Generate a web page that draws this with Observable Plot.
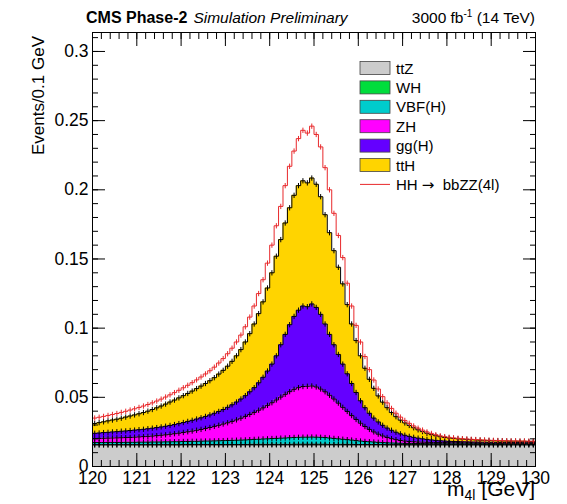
<!DOCTYPE html>
<html>
<head>
<meta charset="utf-8">
<script src="https://cdn.jsdelivr.net/npm/d3@7"></script>
<script src="https://cdn.jsdelivr.net/npm/@observablehq/plot@0.6"></script>
<style>
  html, body { margin: 0; padding: 0; background: white; }
  #chart { width: 567px; height: 504px; }
</style>
</head>
<body>
<div id="chart"></div>
<script>
// ---------- data (events per 0.1 GeV bin, 120.0 .. 130.0 GeV) ----------
const seriesNames = ["ttZ", "WH", "VBF(H)", "ZH", "gg(H)", "ttH"];
const seriesColors = ["#cccccc", "#00dd3c", "#00cccc", "#ff00ff", "#6400ff", "#ffd400"];
const hhName = "HH";
const hhLabel = "HH \u2192  bbZZ(4l)";
const hhColor = "#e8282b";

const ttZ = [
0.0156,0.0156,0.0156,0.0156,0.0156,0.0156,0.0156,0.0156,0.0156,0.0156,
0.0156,0.0156,0.0156,0.0156,0.0156,0.0156,0.0156,0.0156,0.0156,0.0156,
0.0156,0.0156,0.0156,0.0156,0.0156,0.0156,0.0156,0.0156,0.0156,0.0156,
0.0156,0.0156,0.0156,0.0156,0.0156,0.0156,0.0156,0.0156,0.0156,0.0156,
0.0156,0.0156,0.0156,0.0156,0.0156,0.0156,0.0156,0.0156,0.0156,0.0156,
0.0156,0.0156,0.0156,0.0156,0.0156,0.0156,0.0156,0.0156,0.0156,0.0156,
0.0156,0.0156,0.0156,0.0156,0.0156,0.0156,0.0156,0.0156,0.0156,0.0156,
0.0156,0.0156,0.0156,0.0156,0.0156,0.0156,0.0156,0.0156,0.0156,0.0156,
0.0156,0.0156,0.0156,0.0156,0.0156,0.0156,0.0156,0.0156,0.0156,0.0156,
0.0156,0.0156,0.0156,0.0156,0.0156,0.0156,0.0156,0.0156,0.0156,0.0156];
const WH = [
0.0002,0.0002,0.0002,0.0002,0.0002,0.0002,0.0002,0.0002,0.0002,0.0002,
0.0002,0.0002,0.0002,0.0002,0.0002,0.0002,0.0002,0.0002,0.0002,0.0002,
0.0003,0.0003,0.0003,0.0003,0.0003,0.0003,0.0003,0.0003,0.0003,0.0003,
0.0003,0.0003,0.0003,0.0003,0.0003,0.0004,0.0004,0.0004,0.0004,0.0004,
0.0004,0.0004,0.0004,0.0004,0.0004,0.0005,0.0005,0.0005,0.0005,0.0005,
0.0005,0.0005,0.0005,0.0004,0.0004,0.0004,0.0004,0.0004,0.0004,0.0003,
0.0003,0.0003,0.0003,0.0003,0.0003,0.0003,0.0002,0.0002,0.0002,0.0002,
0.0002,0.0002,0.0002,0.0002,0.0002,0.0002,0.0002,0.0002,0.0002,0.0002,
0.0002,0.0002,0.0002,0.0002,0.0002,0.0002,0.0002,0.0002,0.0002,0.0002,
0.0002,0.0002,0.0002,0.0002,0.0002,0.0002,0.0002,0.0002,0.0002,0.0002];
const VBF = [
0.0015,0.0015,0.0015,0.0016,0.0016,0.0016,0.0016,0.0017,0.0017,0.0017,
0.0018,0.0018,0.0018,0.0019,0.0019,0.0019,0.0020,0.0020,0.0021,0.0021,
0.0022,0.0022,0.0023,0.0023,0.0024,0.0025,0.0025,0.0026,0.0027,0.0028,
0.0029,0.0030,0.0031,0.0032,0.0033,0.0034,0.0036,0.0037,0.0039,0.0040,
0.0042,0.0043,0.0045,0.0046,0.0048,0.0049,0.0050,0.0051,0.0051,0.0052,
0.0051,0.0050,0.0048,0.0046,0.0043,0.0040,0.0037,0.0034,0.0031,0.0028,
0.0025,0.0022,0.0020,0.0018,0.0016,0.0014,0.0013,0.0012,0.0011,0.0010,
0.0009,0.0009,0.0008,0.0008,0.0008,0.0007,0.0007,0.0007,0.0007,0.0007,
0.0006,0.0006,0.0006,0.0006,0.0006,0.0006,0.0006,0.0006,0.0006,0.0006,
0.0006,0.0006,0.0006,0.0006,0.0006,0.0006,0.0006,0.0006,0.0006,0.0006];
const ZH = [
0.0029,0.0030,0.0031,0.0031,0.0032,0.0033,0.0034,0.0034,0.0035,0.0037,
0.0038,0.0040,0.0042,0.0043,0.0046,0.0049,0.0051,0.0055,0.0058,0.0062,
0.0065,0.0070,0.0074,0.0080,0.0085,0.0091,0.0098,0.0105,0.0112,0.0120,
0.0128,0.0137,0.0147,0.0158,0.0170,0.0182,0.0195,0.0210,0.0225,0.0242,
0.0259,0.0278,0.0297,0.0316,0.0333,0.0348,0.0359,0.0366,0.0368,0.0369,
0.0363,0.0349,0.0331,0.0309,0.0285,0.0258,0.0231,0.0204,0.0177,0.0153,
0.0129,0.0108,0.0089,0.0073,0.0059,0.0048,0.0039,0.0031,0.0025,0.0020,
0.0017,0.0014,0.0013,0.0011,0.0010,0.0010,0.0009,0.0009,0.0008,0.0008,
0.0008,0.0008,0.0008,0.0007,0.0007,0.0007,0.0006,0.0006,0.0006,0.0006,
0.0005,0.0005,0.0005,0.0005,0.0005,0.0004,0.0004,0.0004,0.0004,0.0004];
const ggH = [
0.0038,0.0039,0.0041,0.0042,0.0044,0.0045,0.0047,0.0048,0.0050,0.0051,
0.0052,0.0053,0.0055,0.0057,0.0058,0.0060,0.0062,0.0064,0.0066,0.0069,
0.0072,0.0075,0.0078,0.0081,0.0084,0.0087,0.0091,0.0095,0.0100,0.0105,
0.0112,0.0120,0.0129,0.0139,0.0150,0.0164,0.0179,0.0198,0.0221,0.0248,
0.0279,0.0319,0.0378,0.0433,0.0484,0.0527,0.0560,0.0582,0.0575,0.0593,
0.0575,0.0540,0.0490,0.0440,0.0392,0.0352,0.0312,0.0272,0.0232,0.0195,
0.0162,0.0136,0.0117,0.0100,0.0088,0.0077,0.0068,0.0061,0.0054,0.0048,
0.0042,0.0037,0.0032,0.0028,0.0024,0.0021,0.0018,0.0015,0.0013,0.0011,
0.0010,0.0009,0.0008,0.0008,0.0007,0.0006,0.0007,0.0006,0.0006,0.0005,
0.0006,0.0005,0.0005,0.0005,0.0004,0.0005,0.0005,0.0004,0.0004,0.0004];
const ttH = [
0.0071,0.0075,0.0078,0.0083,0.0086,0.0090,0.0094,0.0100,0.0105,0.0110,
0.0115,0.0121,0.0127,0.0135,0.0143,0.0151,0.0160,0.0169,0.0177,0.0186,
0.0194,0.0202,0.0211,0.0220,0.0229,0.0238,0.0247,0.0257,0.0270,0.0283,
0.0297,0.0314,0.0334,0.0357,0.0388,0.0420,0.0460,0.0500,0.0545,0.0600,
0.0660,0.0720,0.0760,0.0805,0.0845,0.0875,0.0900,0.0905,0.0895,0.0910,
0.0890,0.0850,0.0790,0.0735,0.0680,0.0630,0.0580,0.0500,0.0430,0.0375,
0.0325,0.0285,0.0245,0.0215,0.0188,0.0167,0.0147,0.0128,0.0112,0.0099,
0.0089,0.0079,0.0069,0.0060,0.0052,0.0044,0.0038,0.0033,0.0029,0.0026,
0.0024,0.0022,0.0020,0.0019,0.0018,0.0017,0.0015,0.0014,0.0013,0.0013,
0.0012,0.0012,0.0011,0.0010,0.0010,0.0010,0.0009,0.0010,0.0009,0.0009];
const HH = [
0.0039,0.0039,0.0039,0.0039,0.0040,0.0041,0.0042,0.0042,0.0043,0.0044,
0.0046,0.0047,0.0048,0.0048,0.0049,0.0050,0.0051,0.0052,0.0054,0.0055,
0.0057,0.0059,0.0061,0.0063,0.0066,0.0069,0.0072,0.0076,0.0080,0.0085,
0.0090,0.0095,0.0100,0.0105,0.0110,0.0120,0.0130,0.0145,0.0160,0.0180,
0.0200,0.0220,0.0240,0.0270,0.0300,0.0320,0.0340,0.0365,0.0360,0.0375,
0.0360,0.0360,0.0340,0.0310,0.0270,0.0230,0.0190,0.0155,0.0130,0.0110,
0.0100,0.0085,0.0070,0.0060,0.0050,0.0040,0.0035,0.0030,0.0025,0.0022,
0.0018,0.0015,0.0013,0.0012,0.0011,0.0010,0.0009,0.0008,0.0007,0.0006,
0.0005,0.0004,0.0004,0.0003,0.0003,0.0003,0.0003,0.0003,0.0002,0.0002,
0.0002,0.0002,0.0002,0.0002,0.0002,0.0002,0.0002,0.0002,0.0002,0.0002];

const xTicks = [120,121,122,123,124,125,126,127,128,129,130];
const xTickLabels = ["120","121","122","123","124","125","126","127","128","129","130"];
const yTicks = [0,0.05,0.1,0.15,0.2,0.25,0.3];
const yTickLabels = ["0","0.05","0.1","0.15","0.2","0.25","0.3"];

// ---------- build tables ----------
const xMin = 120, xMax = 130, binWidth = 0.1, nBins = 100;
const binLo = d3.range(nBins).map(i => +(xMin + i * binWidth).toFixed(2));
const stackValues = [ttZ, WH, VBF, ZH, ggH, ttH];

function edgeRows(name, vals) {
  const rows = vals.map((v, i) => ({series: name, x: binLo[i], v}));
  rows.push({series: name, x: xMax, v: vals[vals.length - 1]});
  return rows;
}
function centerRows(name, vals) {
  return vals.map((v, i) => ({series: name, x: +(binLo[i] + binWidth / 2).toFixed(3), v}));
}
const edges6 = seriesNames.flatMap((n, k) => edgeRows(n, stackValues[k]));
const edges7 = edges6.concat(edgeRows(hhName, HH));
const centers6 = seriesNames.flatMap((n, k) => centerRows(n, stackValues[k]));
const centers7 = centers6.concat(centerRows(hhName, HH));

// keep only the HH series after the stack has been computed
function onlyHH(opts) {
  const t = opts.transform;
  return {...opts, transform(data, facets, o) {
    const r = t(data, facets, o);
    return {data: r.data, facets: r.facets.map(f => Array.from(f).filter(i => r.data[i].series === hhName))};
  }};
}
const errBar = {draw(ctx, size) { const h = Math.sqrt(size); ctx.moveTo(0, -h); ctx.lineTo(0, h); }};

const xMinor = d3.range(120, 130.0001, 0.2);
const yMinor = d3.range(0, 0.3101, 0.01);

const chart = Plot.plot({
  width: 567,
  height: 504,
  marginLeft: 92,
  marginRight: 32,
  marginTop: 32,
  marginBottom: 38,
  style: {fontFamily: "'Liberation Sans', Arial, Helvetica, sans-serif", fontSize: "17.5px", background: "white", color: "black", overflow: "visible"},
  x: {domain: [xMin, xMax], label: null},
  y: {domain: [0, 0.3137], label: null},
  color: {domain: seriesNames, range: seriesColors},
  marks: [
    Plot.areaY(edges6, {x: "x", y: "v", z: "series", fill: "series", curve: "step-after"}),
    Plot.lineY(edges6, Plot.stackY2({x: "x", y: "v", z: "series", curve: "step-after", stroke: "black", strokeWidth: 1})),
    Plot.dot(centers6, Plot.stackY2({x: "x", y: "v", z: "series", symbol: errBar, r: 1.5, stroke: "black", strokeWidth: 1, fill: "none"})),
    Plot.lineY(edges7, onlyHH(Plot.stackY2({x: "x", y: "v", z: "series", curve: "step-after", stroke: hhColor, strokeWidth: 1}))),
    Plot.dot(centers7, onlyHH(Plot.stackY2({x: "x", y: "v", z: "series", symbol: errBar, r: 1.5, stroke: hhColor, strokeWidth: 1, fill: "none"}))),
    Plot.frame({stroke: "black", strokeWidth: 1}),
    // tick labels
    Plot.axisX({ticks: xTicks, tickFormat: d => xTickLabels[xTicks.indexOf(d)], tickSize: 0, tickPadding: 5, label: null}),
    Plot.axisY({ticks: yTicks, tickFormat: d => yTickLabels[yTicks.indexOf(d)], tickSize: 0, tickPadding: 4, label: null}),
    // inward ticks on all four sides
    Plot.axisX({anchor: "bottom", ticks: xTicks, tickSize: -13, tickFormat: () => "", label: null}),
    Plot.axisX({anchor: "bottom", ticks: xMinor, tickSize: -6, tickFormat: () => "", label: null}),
    Plot.axisX({anchor: "top", ticks: xTicks, tickSize: -13, tickFormat: () => "", label: null}),
    Plot.axisX({anchor: "top", ticks: xMinor, tickSize: -6, tickFormat: () => "", label: null}),
    Plot.axisY({anchor: "left", ticks: yTicks, tickSize: -13, tickFormat: () => "", label: null}),
    Plot.axisY({anchor: "left", ticks: yMinor, tickSize: -6, tickFormat: () => "", label: null}),
    Plot.axisY({anchor: "right", ticks: yTicks, tickSize: -13, tickFormat: () => "", label: null}),
    Plot.axisY({anchor: "right", ticks: yMinor, tickSize: -6, tickFormat: () => "", label: null})
  ]
});
document.getElementById("chart").appendChild(chart);

// ---------- header, axis titles, legend ----------
const svg = d3.select(chart);
const font = "'Liberation Sans', Arial, Helvetica, sans-serif";

const head = svg.append("text").attr("x", 86).attr("y", 23).attr("text-anchor", "start").attr("font-family", font).attr("fill", "black");
head.append("tspan").attr("font-weight", "bold").attr("font-size", 16).text("CMS Phase-2");
head.append("tspan").attr("font-style", "italic").attr("font-size", 15.5).attr("dx", 6).text("Simulation Preliminary");

const lumi = svg.append("text").attr("x", 535).attr("y", 23).attr("text-anchor", "end").attr("font-family", font).attr("font-size", 15.5).attr("fill", "black");
lumi.append("tspan").text("3000 fb");
lumi.append("tspan").attr("font-size", 10).attr("dy", -6).text("-1");
lumi.append("tspan").attr("dy", 6).text(" (14 TeV)");

svg.append("text").attr("transform", "translate(44,36) rotate(-90)").attr("text-anchor", "end")
  .attr("font-family", font).attr("font-size", 17).attr("fill", "black").text("Events/0.1 GeV");

const xt = svg.append("text").attr("x", 535).attr("y", 496).attr("text-anchor", "end").attr("font-family", font).attr("font-size", 21).attr("fill", "black");
xt.append("tspan").text("m");
xt.append("tspan").attr("font-size", 14).attr("dy", 4).text("4l");
xt.append("tspan").attr("dy", -4).text(" [GeV]");

const leg = svg.append("g").attr("font-family", font).attr("font-size", 15).attr("fill", "black").attr("text-anchor", "start");
const rowY = i => 68 + 19.4 * i;
seriesNames.forEach((n, i) => {
  leg.append("rect").attr("x", 360).attr("y", rowY(i) - 6.5).attr("width", 30).attr("height", 13)
    .attr("fill", seriesColors[i]).attr("stroke", "#444").attr("stroke-width", 0.8);
  leg.append("text").attr("x", 396).attr("y", rowY(i) + 5.5).attr("text-anchor", "start").text(n);
});
leg.append("line").attr("x1", 360).attr("x2", 390).attr("y1", rowY(6)).attr("y2", rowY(6)).attr("stroke", hhColor).attr("stroke-width", 1);
const hhText = leg.append("text").attr("x", 396).attr("y", rowY(6) + 5.5).attr("text-anchor", "start");
hhText.append("tspan").text("HH ");
hhText.append("tspan").attr("font-family", "'DejaVu Sans', sans-serif").attr("font-size", 15).text("\u2192");
hhText.append("tspan").text("  bbZZ(4l)");
</script>
</body>
</html>
